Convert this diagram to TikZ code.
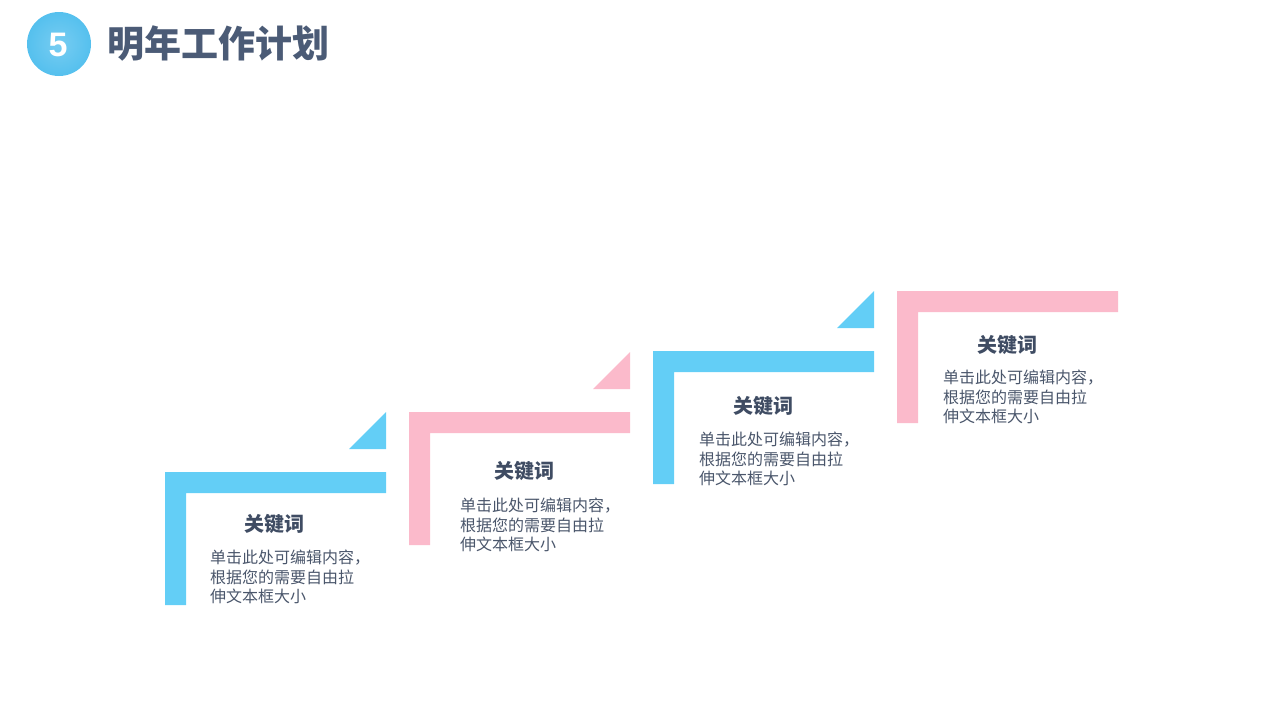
\documentclass[tikz,border=0pt]{standalone}
\usepackage{fontspec}
\newfontfamily\cjk{Noto Sans CJK SC}
\setsansfont{Liberation Sans}
\usetikzlibrary{positioning}

\definecolor{skyblue}{HTML}{63CEF6}
\definecolor{badgeblue}{HTML}{55C0EE}
\definecolor{rosepink}{HTML}{FBBACB}
\definecolor{slatetext}{HTML}{4A566B}
\definecolor{slatehead}{HTML}{3F4C63}
\definecolor{slatetitle}{HTML}{4B5B76}

\tikzset{
  blueshape/.style={fill=skyblue, draw=none},
  pinkshape/.style={fill=rosepink, draw=none},
  keyword/.style={font=\cjk\bfseries\fontsize{20}{24}\selectfont, text=slatehead, inner sep=0pt},
  bodytext/.style={font=\cjk\fontsize{16}{19.5}\selectfont, text=slatetext, align=left, anchor=north west, inner sep=0pt}
}

\begin{document}
\begin{tikzpicture}[x=1pt,y=-1pt]
\useasboundingbox (0,0) rectangle (1280,720);
% heading
\shade[inner color=badgeblue!80!white, outer color=badgeblue] (59,44) circle (32);
\node[font=\sffamily\bfseries\fontsize{34}{38}\selectfont, text=white] (num) at (58,45) {5};
\node[font=\cjk\bfseries\fontsize{37}{40}\selectfont, text=slatetitle, anchor=west, inner sep=0pt] (heading) at (107,44) {明年工作计划};
% block 1
\fill[blueshape] (165,472) -- (386,472) -- (386,493) -- (186,493) -- (186,605) -- (165,605) -- cycle;
\fill[blueshape] (349,449) -- (386,449) -- (386,412) -- cycle;
\node[keyword] (key1) at (274,524) {关键词};
\node[bodytext] (text1) at (210,550) {单击此处可编辑内容，\\根据您的需要自由拉\\伸文本框大小};
% block 2
\fill[pinkshape] (409,412) -- (630,412) -- (630,433) -- (430,433) -- (430,545) -- (409,545) -- cycle;
\fill[pinkshape] (593,389) -- (630,389) -- (630,352) -- cycle;
\node[keyword] (key2) at (524,471) {关键词};
\node[bodytext] (text2) at (460,498) {单击此处可编辑内容，\\根据您的需要自由拉\\伸文本框大小};
% block 3
\fill[blueshape] (653,351) -- (874,351) -- (874,372) -- (674,372) -- (674,484) -- (653,484) -- cycle;
\fill[blueshape] (837,328) -- (874,328) -- (874,291) -- cycle;
\node[keyword] (key3) at (763,406) {关键词};
\node[bodytext] (text3) at (699,432) {单击此处可编辑内容，\\根据您的需要自由拉\\伸文本框大小};
% block 4
\fill[pinkshape] (897,291) -- (1118,291) -- (1118,312) -- (918,312) -- (918,423) -- (897,423) -- cycle;
\node[keyword] (key4) at (1007,345) {关键词};
\node[bodytext] (text4) at (943,370) {单击此处可编辑内容，\\根据您的需要自由拉\\伸文本框大小};
\end{tikzpicture}
\end{document}
